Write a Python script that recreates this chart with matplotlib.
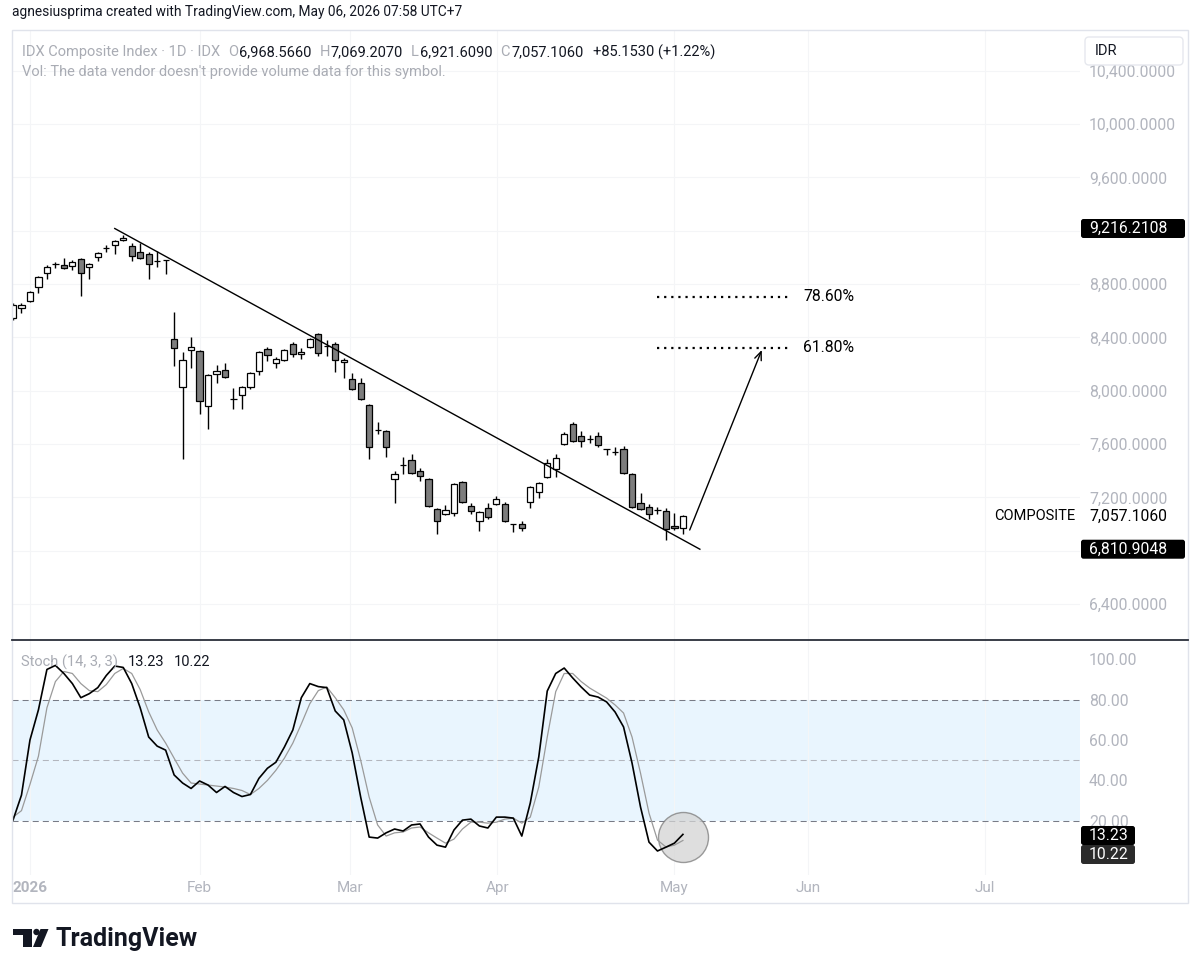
import matplotlib
matplotlib.use('Agg')
import matplotlib.pyplot as plt
import numpy as np
from matplotlib.lines import Line2D
from matplotlib.patches import Rectangle, FancyBboxPatch, Polygon, Circle
from matplotlib.transforms import Affine2D

plt.rcParams['font.family'] = ['Roboto', 'DejaVu Sans']

W, H = 1200, 974

# ── 日线 OHLC──
opens = [8545, 8620, 8672, 8778, 8882, 8950, 8943, 8935, 8988, 8928,
         9003, 9068, 9093, 9130, 9085, 9040, 9025, 8975, 8980, 8388,
         8028, 8305, 8298, 7885, 8125, 8155, 7935, 7968, 8028, 8148,
         8313, 8208, 8230, 8350, 8275, 8328, 8425, 8335, 8350, 8215,
         8088, 8058, 7893, 7705, 7698, 7338, 7440, 7480, 7398, 7338,
         7113, 7075, 7083, 7315, 7135, 7023, 7120, 7150, 7150, 6998,
         6998, 7165, 7240, 7353, 7413, 7600, 7750, 7660, 7638, 7660,
         7563, 7538, 7563, 7375, 7158, 7128, 7103, 7098, 6985, 6968.566]
highs = [8657, 8657, 8748, 8860, 8943, 8965, 8995, 8980, 8995, 8958,
         9040, 9093, 9130, 9168, 9108, 9108, 9040, 9048, 8982, 8590,
         8290, 8403, 8305, 8125, 8193, 8208, 8020, 8035, 8140, 8298,
         8328, 8253, 8313, 8365, 8320, 8395, 8433, 8380, 8365, 8245,
         8133, 8095, 7900, 7765, 7705, 7398, 7503, 7525, 7420, 7345,
         7120, 7143, 7308, 7323, 7158, 7098, 7158, 7210, 7165, 7003,
         7023, 7285, 7315, 7488, 7525, 7690, 7765, 7698, 7668, 7690,
         7565, 7578, 7585, 7383, 7233, 7150, 7128, 7120, 7083, 7069.207]
lows = [8530, 8582, 8665, 8733, 8838, 8920, 8915, 8905, 8710, 8838,
        8973, 9040, 9025, 9123, 8973, 8985, 8838, 8928, 8875, 8185,
        7488, 8170, 7825, 7713, 8058, 8095, 7863, 7863, 8013, 8118,
        8223, 8170, 8223, 8253, 8238, 8320, 8260, 8260, 8140, 8095,
        8005, 7930, 7488, 7675, 7503, 7158, 7375, 7375, 7323, 7128,
        6925, 7068, 7060, 7158, 7075, 6948, 7038, 7143, 7015, 6940,
        6948, 7120, 7195, 7345, 7353, 7593, 7615, 7578, 7608, 7578,
        7518, 7518, 7375, 7120, 7105, 7038, 7075, 6880, 6955, 6921.609]
closes = [8642, 8642, 8740, 8853, 8928, 8952, 8920, 8965, 8882, 8950,
          9033, 9072, 9123, 9145, 9010, 8995, 8950, 8972, 8982, 8320,
          8230, 8328, 7923, 8118, 8148, 8103, 7938, 8028, 8133, 8290,
          8268, 8238, 8305, 8275, 8290, 8388, 8283, 8338, 8230, 8230,
          8013, 7938, 7578, 7708, 7578, 7375, 7443, 7383, 7360, 7135,
          7023, 7105, 7300, 7165, 7098, 7090, 7053, 7188, 7023, 7000,
          6968, 7278, 7308, 7458, 7495, 7675, 7623, 7623, 7640, 7593,
          7565, 7540, 7383, 7128, 7113, 7075, 7105, 6963, 6970, 7057.106]

# ── Stoch (14, 3, 3) ──
stoch_k = [20.3, 32.7, 60, 75, 95, 97, 93, 88, 81, 83,
           86, 92, 96.7, 96, 88, 76, 61.5, 57, 55, 42.7,
           38.7, 36, 39.7, 37.7, 34, 37, 34, 32, 33, 41,
           46, 49, 56.5, 65, 81, 88, 86.5, 86, 74.4, 70,
           53.6, 31.7, 11.9, 11.4, 14, 15.9, 14.9, 17.9, 18.4, 11.9,
           7.9, 6.9, 15.4, 20.3, 20.8, 17.4, 16.4, 21.8, 21.8, 21.3,
           12.4, 28.8, 51.6, 84.3, 93, 95.7, 90.8, 86.3, 82.3, 81.3,
           78.9, 73.9, 66.5, 48.6, 26.8, 9.4, 5, 6.9, 8.9, 13.23]
stoch_d = [21.8, 25, 38, 52, 76, 89, 94, 93, 88, 84.5,
           84, 87.5, 93, 95.5, 93, 85, 74, 65, 58.5, 51,
           43.6, 38.7, 38.2, 37.7, 37.2, 36.7, 36, 35, 33, 36,
           40, 45, 51, 58.5, 68, 78, 84.5, 86.3, 81, 75,
           66, 50, 31.7, 17.9, 12.4, 14, 14.4, 16.4, 16.9, 14,
           11.4, 8.9, 10.9, 15.9, 19.3, 19.3, 18.8, 19.3, 20.8, 21.3,
           18.8, 21.8, 36.7, 61.5, 84, 93, 93, 89, 85.8, 83.3,
           80.8, 77.4, 73.4, 61.5, 43.6, 23.8, 10.4, 7, 7.9, 10.22]

month_pos = [2, 22, 39.7, 57.1, 78, 93.75, 114.6]
month_labels = ['2026', 'Feb', 'Mar', 'Apr', 'May', 'Jun', 'Jul']
price_ticks = [6400, 6800, 7200, 7600, 8000, 8400, 8800, 9200, 9600, 10000, 10400]
hidden_ticks = [6800, 9200]  # 被价格标签挡住
stoch_ticks = [0, 20, 40, 60, 80, 100]
hidden_stoch = [0]  # 被 10.22 标签挡住

# 画线工具
trend_x = [12, 81]
trend_y = [9216.2108, 6810.9048]
fib_levels = [8705, 8320]
fib_labels = ['78.60%', '61.80%']
fib_x = [75.9, 91.6]
fib_text_x = 93.2
arrow_from = (79.8, 6955)
arrow_to = (88.3, 8305)
circle_at = (79, 11.9)

GRAY = '#a9acb4'
AXIS_GRAY = '#b2b5be'
INK = '#131722'
FS = 10.5
AX_FS = 11.3

fig = plt.figure(figsize=(W / 100, H / 100), dpi=100)
fig.patch.set_facecolor('white')
# 像素坐标（左上为原点）
pix = Affine2D().scale(1 / W, -1 / H).translate(0, 1) + fig.transFigure


def rect(x0, y0, x1, y1):
    return [x0 / W, 1 - y1 / H, (x1 - x0) / W, (y1 - y0) / H]


# 像素 -> bar 序号
step = 8.48
xlim = ((12 - 13) / step, (1080 - 13) / step)

ax = fig.add_axes(rect(12, 30, 1080, 640))
ax2 = fig.add_axes(rect(12, 640, 1080, 875))

# ── 主图 K 线 ──
idx = np.arange(len(opens))
o = np.array(opens); c = np.array(closes)
up = c >= o
ax.vlines(idx, lows, highs, color='black', lw=1.0, zorder=2)
ax.bar(idx, np.maximum(np.abs(c - o), 1), bottom=np.minimum(o, c), width=0.74,
       color=np.where(up, 'white', '#7d7d7d'), edgecolor='black', linewidth=0.9, zorder=3)

ax.plot(trend_x, trend_y, color='black', lw=1.0, zorder=4)
for lvl, lab in zip(fib_levels, fib_labels):
    ax.plot(fib_x, [lvl, lvl], color='black', lw=1.6, linestyle=(0, (1, 2.2)), zorder=4)
    ax.text(fib_text_x, lvl, lab, fontsize=AX_FS, color='black', va='center', ha='left')
ax.annotate('', xy=arrow_to, xytext=arrow_from,
            arrowprops=dict(arrowstyle='->,head_length=0.6,head_width=0.25',
                            color='black', lw=1.0, shrinkA=0, shrinkB=0))

ax.set_xlim(*xlim)
ax.set_ylim(6130, 10705)
ax.set_xticks(month_pos)
ax.set_yticks(price_ticks)
ax.set_yticklabels(['' if p in hidden_ticks else f'{p:,.4f}' for p in price_ticks])
ax.yaxis.tick_right()
ax.tick_params(axis='x', length=0, labelbottom=False)
ax.tick_params(axis='y', length=0, pad=6.5, labelsize=AX_FS, labelcolor=AXIS_GRAY)
ax.grid(True, color='#f4f5f7', lw=0.8)
ax.set_axisbelow(True)
for s in ax.spines.values():
    s.set_visible(False)

# ── Stoch 副图 ──
ax2.axhspan(20, 80, color='#e9f5fe', lw=0, zorder=0)
for lvl, col in [(80, '#787b86'), (50, '#b3b6be'), (20, '#787b86')]:
    ax2.axhline(lvl, color=col, lw=0.75, linestyle=(0, (5.8, 3.9)), zorder=1)
ax2.scatter([circle_at[0]], [circle_at[1]], s=1296, facecolor='#d4d4d4', alpha=0.75,
            edgecolor='#7c7c7c', linewidth=1.0, zorder=2)
ax2.plot(idx, stoch_d, color='#9a9a9a', lw=0.9, zorder=3)
ax2.plot(idx, stoch_k, color='black', lw=1.2, zorder=4)
ax2.set_xlim(*xlim)
ax2.set_ylim(-6.9, 109.6)
ax2.set_xticks(month_pos)
ax2.set_xticklabels(month_labels)
ax2.get_xticklabels()[0].set_fontweight('bold')
ax2.set_yticks(stoch_ticks)
ax2.set_yticklabels(['' if v in hidden_stoch else f'{v:.2f}' for v in stoch_ticks])
ax2.yaxis.tick_right()
ax2.tick_params(axis='x', length=0, pad=4, labelsize=11, labelcolor=AXIS_GRAY)
ax2.tick_params(axis='y', length=0, pad=6.5, labelsize=AX_FS, labelcolor=AXIS_GRAY)
ax2.grid(True, axis='x', color='#f4f5f7', lw=0.8)
ax2.set_axisbelow(True)
for s in ax2.spines.values():
    s.set_visible(False)

# ── 外框、分隔线 ──
fig.add_artist(Rectangle((12, 30), 1176, 873, transform=pix, fill=False,
                         ec='#e0e3eb', lw=1.0))
fig.add_artist(Line2D([12, 1188], [640, 640], transform=pix, color='#2a2e39', lw=1.3))

# ── 顶部文字 ──
renderer = fig.canvas.get_renderer()


def chain(x, y, pieces, size=FS):
    # 依次排列不同颜色的文字片段
    for txt, col, gap in pieces:
        x += gap
        t = fig.text(x / W, 1 - y / H, txt, color=col, fontsize=size, va='center')
        x = t.get_window_extent(renderer).x1


fig.text(12 / W, 1 - 12 / H, 'agnesiusprima created with TradingView.com, May 06, 2026 07:58 UTC+7',
         fontsize=9.9, color=INK, va='center')
chain(22, 52, [('IDX Composite Index · 1D · IDX', GRAY, 0),
               ('O', GRAY, 8), ('6,968.5660', INK, 1),
               ('H', GRAY, 8), ('7,069.2070', INK, 1),
               ('L', GRAY, 8), ('6,921.6090', INK, 1),
               ('C', GRAY, 8), ('7,057.1060', INK, 1),
               ('+85.1530 (+1.22%)', INK, 10)])
fig.text(22 / W, 1 - 72 / H, "Vol: The data vendor doesn't provide volume data for this symbol.",
         fontsize=FS, color=GRAY, va='center')
chain(21, 662, [('Stoch (14, 3, 3)', GRAY, 0), ('13.23', INK, 10), ('10.22', INK, 9)])


# ── 右侧价格标签 ──
def price_tag(y_px, text, fc, width):
    fig.add_artist(FancyBboxPatch((1081, y_px - 9.5), width, 19, transform=pix,
                                  boxstyle='round,pad=0,rounding_size=2.5',
                                  fc=fc, ec='none', zorder=5))
    t = fig.text(1089 / W, 1 - y_px / H, text, fontsize=AX_FS, color='white',
                 va='center', ha='left', zorder=6)
    return t


for val in trend_y:
    y_px = H - ax.transData.transform((0, val))[1]
    price_tag(y_px, f'{val:,.4f}', 'black', 104)
y_close = H - ax.transData.transform((0, closes[-1]))[1]
fig.text(1075 / W, 1 - y_close / H, 'COMPOSITE', fontsize=FS, color='black',
         va='center', ha='right')
fig.text(1089 / W, 1 - y_close / H, f'{closes[-1]:,.4f}', fontsize=AX_FS,
         color='black', va='center', ha='left')
# K、D 两个标签上下错开
price_tag(835.5, f'{stoch_k[-1]:.2f}', 'black', 54)
price_tag(854.5, f'{stoch_d[-1]:.2f}', '#2b2b2b', 54)

# IDR 按钮
fig.add_artist(FancyBboxPatch((1085, 37), 98, 28, transform=pix,
                              boxstyle='round,pad=0,rounding_size=4',
                              fc='white', ec='#e6e8ee', lw=1.0, zorder=5))
fig.text(1095 / W, 1 - 51 / H, 'IDR', fontsize=FS, color=INK, va='center', zorder=6)

# ── TradingView 标志 ──
fig.add_artist(Polygon([(13, 929), (32, 929), (32, 947), (23, 947), (23, 935), (13, 935)],
                       closed=True, transform=pix, fc=INK, ec='none'))
fig.add_artist(Circle((36.5, 932), 3.2, transform=pix, fc=INK, ec='none'))
fig.add_artist(Polygon([(40.5, 929), (48.5, 929), (41, 947), (33, 947)],
                       closed=True, transform=pix, fc=INK, ec='none'))
fig.text(56 / W, 1 - 939 / H, 'TradingView', fontsize=18, fontweight='bold',
         color=INK, va='center')

fig.savefig('out.png', dpi=100)
